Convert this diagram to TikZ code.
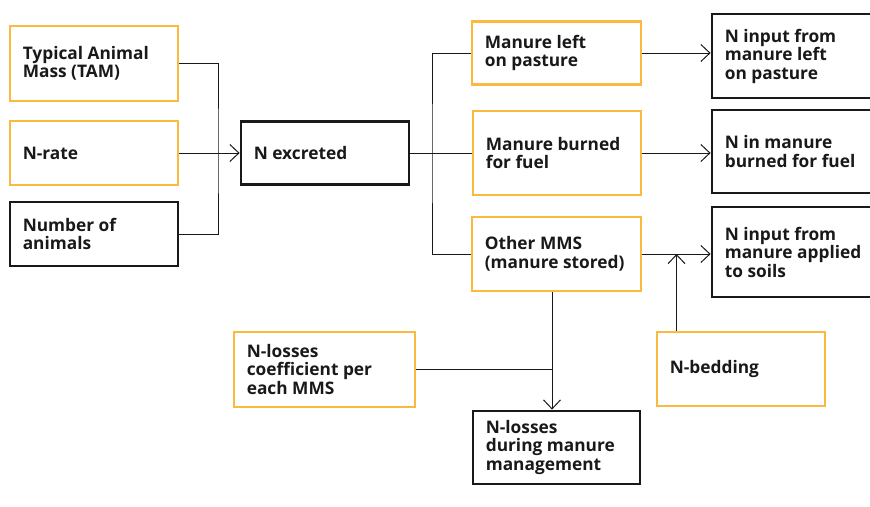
\documentclass[tikz,border=0pt]{standalone}
\usepackage{fontspec}
\setmainfont{Open Sans}
\usetikzlibrary{arrows.meta,calc}
\definecolor{borange}{RGB}{251,185,64}
\definecolor{bdark}{RGB}{25,25,25}
\newcommand\bx[7]{%
  \node[#2, minimum width=#5pt, minimum height=#6pt] (#1) at (#3,#4) {};
  \node[txt, anchor=west] (#1t) at ([xshift=14pt]#1.west) {#7};}
\begin{document}
\begin{tikzpicture}[x=1pt,y=-1pt,
  obox/.style={draw=borange, line width=2.8pt, inner sep=0pt},
  kbox/.style={draw=bdark, line width=2.8pt, inner sep=0pt},
  txt/.style={inner sep=0pt, align=left, font=\fontsize{17.3}{18.5}\selectfont\bfseries, text=bdark},
  conn/.style={line width=1pt, draw=bdark},
  arr/.style={conn, -{Straight Barb[length=9pt,width=17pt]}}]
\useasboundingbox (0,0) rectangle (870,506);
% left column
\bx{tam}{obox}{94}{63.5}{168}{75}{Typical Animal\\Mass (TAM)}
\bx{nrate}{obox}{94}{153}{168}{64}{N-rate}
\bx{nanim}{kbox}{94}{234}{168}{64}{Number of\\animals}
\bx{nexc}{kbox}{325}{153}{168}{63}{N excreted}
% middle column
\bx{past}{obox}{556.5}{53}{169}{63}{Manure left\\on pasture}
\bx{burn}{obox}{557}{153}{168}{84}{Manure burned\\for fuel}
\bx{other}{obox}{556.5}{254}{169}{74}{Other MMS\\(manure stored)}
% right column
\bx{npast}{kbox}{795}{56}{166}{84}{N input from\\manure left\\on pasture}
\bx{nburn}{kbox}{795}{151.5}{166}{83}{N in manure\\burned for fuel}
\bx{nsoil}{kbox}{795}{252}{166}{90}{N input from\\manure applied\\to soils}
% bottom
\bx{coeff}{obox}{324.5}{369.5}{181}{75}{N-losses\\coefficient per\\each MMS}
\bx{bed}{obox}{741}{369}{168}{74}{N-bedding}
\bx{loss}{kbox}{556.5}{447.5}{167}{73}{N-losses\\during manure\\management}
% connectors
\coordinate (j1) at (218,153);
\draw[conn] (tam.east) -| (j1) |- (nanim.east);
\draw[arr] (nrate.east) -- (nexc.west);
\coordinate (j2) at (432,153);
\draw[conn] (nexc.east) -- (burn.west);
\draw[conn] (past.west) -| (j2) |- (other.west);
\draw[arr] (past.east) -- (past.east -| npast.west);
\draw[arr] (burn.east) -- (burn.east -| nburn.west);
\draw[arr] (other.east) -- (other.east -| nsoil.west);
\coordinate (bx) at (676.5,254);
\draw[arr] (bx |- bed.north) -- (bx);
\coordinate (lx) at (552,370);
\draw[arr] (other.south -| lx) -- (loss.north -| lx);
\draw[conn] (coeff.east) -- (coeff.east -| lx);
\end{tikzpicture}
\end{document}
